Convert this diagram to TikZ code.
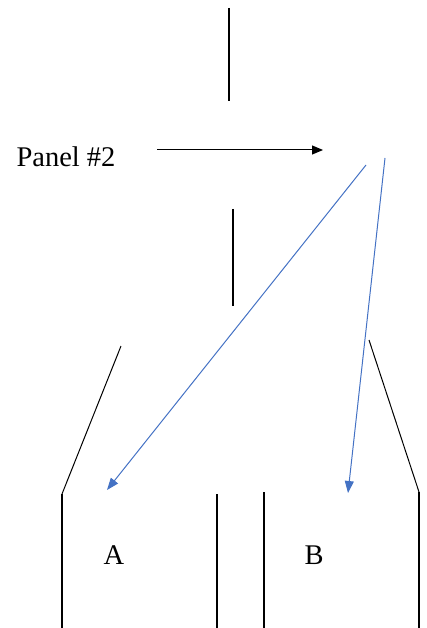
\documentclass[tikz,border=0pt]{standalone}
\usepackage{fontspec}
\setmainfont{Liberation Serif}
\newfontfamily\roomfont{Liberation Serif}
\usetikzlibrary{arrows.meta,positioning}
\definecolor{wordblue}{RGB}{68,114,196}
\tikzset{
  wall/.style={draw=black,line width=1.6pt},
  roomtext/.style={font=\roomfont\fontsize{28.5}{32}\selectfont,inner sep=0pt},
  pointer/.style={-{Triangle[length=11pt,width=9pt]},line width=1pt,draw=black},
  route/.style={-{Triangle[length=12pt,width=9pt]},line width=1pt,draw=wordblue},
}
\begin{document}
\begin{tikzpicture}[x=1pt,y=-1pt]
  \useasboundingbox (0,0) rectangle (427,628);
  % panel walls in the middle
  \coordinate (t1) at (229,8);   \coordinate (t2) at (229,101);
  \coordinate (m1) at (233,209); \coordinate (m2) at (233,306);
  \draw[wall] (t1) -- (t2);
  \draw[wall] (m1) -- (m2);
  % label and arrow
  \node[roomtext] (panel) at (66,157) {Panel \#2};
  \coordinate (pa) at (157,150); \coordinate (pb) at (323,150);
  \draw[pointer] (pa) -- (pb);
  % lower walls
  \coordinate (l1) at (121,346); \coordinate (l2) at (62,494); \coordinate (l3) at (62,628);
  \coordinate (r1) at (369,340); \coordinate (r2) at (419,492); \coordinate (r3) at (419,628);
  \coordinate (c1) at (217,494); \coordinate (c2) at (217,628);
  \coordinate (d1) at (264,492); \coordinate (d2) at (264,628);
  \draw[line width=1pt] (l1) -- (l2);
  \draw[wall] (l2) -- (l3);
  \draw[line width=1pt] (r1) -- (r2);
  \draw[wall] (r2) -- (r3);
  \draw[wall] (c1) -- (c2);
  \draw[wall] (d1) -- (d2);
  % rooms
  \node[roomtext] (roomA) at (114,555) {A};
  \node[roomtext] (roomB) at (314,555) {B};
  % blue routes
  \coordinate (s1) at (366,165); \coordinate (e1) at (107,490);
  \coordinate (s2) at (385,158); \coordinate (e2) at (348,493);
  \draw[route] (s1) -- (e1);
  \draw[route] (s2) -- (e2);
\end{tikzpicture}
\end{document}
